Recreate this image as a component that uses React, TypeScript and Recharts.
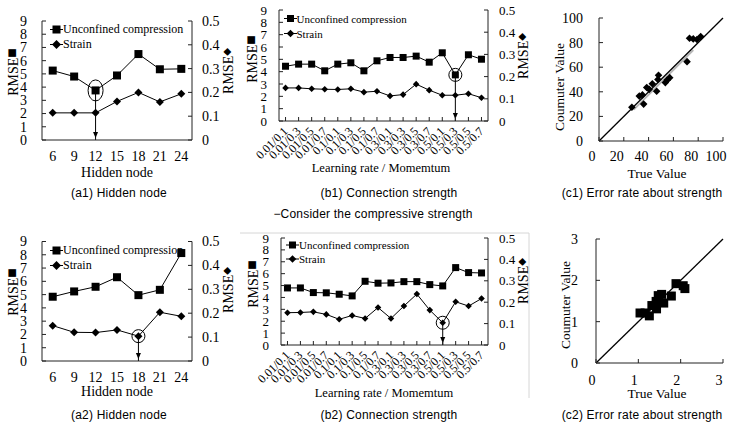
import React from "react";
import {
  Legend,
  Line,
  LineChart,
  ReferenceDot,
  ReferenceLine,
  Scatter,
  ScatterChart,
  XAxis,
  YAxis,
} from "recharts";

const SERIF = '"Liberation Serif", "Times New Roman", serif';
const SANS = '"Liberation Sans", Arial, sans-serif';
const SYMBOL = '"DejaVu Sans", sans-serif';
const EDGE = "#222";

// hidden node sweep (a1, a2)
const hiddenNodes = ["6", "9", "12", "15", "18", "21", "24"];
const a1Compression = [5.25, 4.8, 3.75, 4.88, 6.5, 5.35, 5.38];
const a1Strain = [0.114, 0.114, 0.114, 0.162, 0.2, 0.16, 0.194];
const a2Compression = [4.84, 5.24, 5.59, 6.31, 4.96, 5.36, 8.13];
const a2Strain = [0.148, 0.12, 0.119, 0.13, 0.104, 0.204, 0.187];

// learning rate / momentum sweep (b1, b2)
const rateMomentum = [
  "0.01/0.1", "0.01/0.3", "0.01/0.5", "0.01/0.7",
  "0.1/0.1", "0.1/0.3", "0.1/0.5", "0.1/0.7",
  "0.3/0.1", "0.3/0.3", "0.3/0.5", "0.3/0.7",
  "0.5/0.1", "0.5/0.3", "0.5/0.5", "0.5/0.7",
];
const b1Compression = [4.44, 4.61, 4.61, 4.07, 4.61, 4.72, 4.07, 4.88, 5.15, 5.15, 5.26, 4.77, 5.53, 3.74, 5.37, 5.01];
const b1Strain = [0.149, 0.149, 0.145, 0.143, 0.142, 0.145, 0.13, 0.134, 0.113, 0.119, 0.166, 0.139, 0.116, 0.116, 0.123, 0.105];
const b2Compression = [4.8, 4.8, 4.41, 4.39, 4.27, 4.13, 5.36, 5.2, 5.22, 5.33, 5.33, 5.08, 4.97, 6.51, 6.09, 6.06];
const b2Strain = [0.151, 0.152, 0.155, 0.143, 0.12, 0.138, 0.124, 0.175, 0.124, 0.182, 0.238, 0.163, 0.104, 0.202, 0.182, 0.217];

const rmseTicks = [0, 1, 2, 3, 4, 5, 6, 7, 8, 9];
const strainTicks = [0, 0.1, 0.2, 0.3, 0.4, 0.5];

// true vs computed strength (c1, c2)
const c1True = [26.5, 32.5, 35, 36, 38.5, 40.5, 43, 46.5, 48, 47.5, 53.5, 55, 57, 71, 73, 76, 79, 82];
const c1Computed = [27.5, 36.5, 37.5, 30, 43.5, 42, 46.5, 40.5, 53.5, 50, 47.5, 49.5, 51.5, 64.5, 83.5, 83, 82.5, 85];
const c1TrendX = [28, 76];
const c1TrendY = [25.5, 74];
const c1Ticks = [0, 20, 40, 60, 80, 100];

const c2True = [1.04, 1.16, 1.26, 1.32, 1.42, 1.47, 1.55, 1.43, 1.6, 1.78, 1.89, 2.06, 2.1];
const c2Computed = [1.21, 1.21, 1.14, 1.39, 1.49, 1.63, 1.66, 1.31, 1.45, 1.62, 1.92, 1.87, 1.8];
const c2TrendX = [1.15, 1.95];
const c2TrendY = [1.07, 1.87];
const c2Ticks = [0, 1, 2, 3];

type Row = { name: string; comp: number; strain: number };
const rows = (names: string[], comp: number[], strain: number[]): Row[] =>
  names.map((name, i) => ({ name, comp: comp[i], strain: strain[i] }));
const pairs = (xs: number[], ys: number[]) => xs.map((x, i) => ({ x, y: ys[i] }));

// ticks: labels outside the box, short tick marks pointing inward
type TickOpts = {
  side: "left" | "right" | "bottom";
  gap: number;
  font: number;
  inner?: number;
  rotate?: boolean;
  shift?: number;
};
const makeTick = ({ side, gap, font, inner = 0, rotate = false, shift = 0 }: TickOpts) => (p: any) => {
  const { x, y, payload } = p;
  const label = String(payload.value);
  const txt = { fontFamily: SERIF, fontSize: font, fill: "#000" };
  if (side === "left") {
    return (
      <g>
        {inner > 0 && <line x1={x + gap} x2={x + gap + inner} y1={y} y2={y} stroke={EDGE} />}
        <text x={x} y={y} dy="0.35em" textAnchor="end" {...txt}>{label}</text>
      </g>
    );
  }
  if (side === "right") {
    return (
      <g>
        {inner > 0 && <line x1={x - gap} x2={x - gap - inner} y1={y} y2={y} stroke={EDGE} />}
        <text x={x} y={y} dy="0.35em" textAnchor="start" {...txt}>{label}</text>
      </g>
    );
  }
  return (
    <g>
      {inner > 0 && <line x1={x} x2={x} y1={y - gap} y2={y - gap - inner} stroke={EDGE} />}
      {rotate ? (
        <text x={x} y={y} dy="0.35em" textAnchor="end" transform={`rotate(-45 ${x} ${y})`} {...txt}>{label}</text>
      ) : (
        <text x={x + shift} y={y} dy="0.71em" textAnchor="middle" {...txt}>{label}</text>
      )}
    </g>
  );
};

const squareDot = (s: number) => (q: any) => (
  <rect key={`sq${q.index}`} x={q.cx - s / 2} y={q.cy - s / 2} width={s} height={s} fill="#000" />
);
const diamondDot = (h: number) => (q: any) => (
  <polygon
    key={`dm${q.index}`}
    points={`${q.cx},${q.cy - h} ${q.cx + h},${q.cy} ${q.cx},${q.cy + h} ${q.cx - h},${q.cy}`}
    fill="#000"
  />
);

const legendBody = (font: number, row: number, sq: number, dm: number) => (props: any) => {
  const items = [...(props.payload ?? [])].sort((a: any, b: any) =>
    a.dataKey === "comp" ? -1 : b.dataKey === "comp" ? 1 : 0
  );
  return (
    <div style={{ fontFamily: SERIF, fontSize: font, color: "#000", whiteSpace: "nowrap" }}>
      {items.map((e: any) => (
        <div key={e.value} style={{ display: "flex", alignItems: "center", height: row }}>
          <svg width={13} height={row} style={{ display: "block" }}>
            <line x1={0} x2={13} y1={row / 2} y2={row / 2} stroke="#000" />
            {e.dataKey === "comp" ? (
              <rect x={6.5 - sq / 2} y={row / 2 - sq / 2} width={sq} height={sq} fill="#000" />
            ) : (
              <polygon
                points={`6.5,${row / 2 - dm} ${6.5 + dm},${row / 2} 6.5,${row / 2 + dm} ${6.5 - dm},${row / 2}`}
                fill="#000"
              />
            )}
          </svg>
          <span>{e.value}</span>
        </div>
      ))}
    </div>
  );
};

type PanelProps = {
  left: number; top: number; width: number; height: number;
  data: Row[];
  marginTop: number; leftW: number; rightW: number; xH: number;
  gapL: number; gapR: number; gapX: number;
  font: number; xFont: number; rotated: boolean;
  square: number; diamond: number;
  legend: { left: number; top: number; font: number; row: number };
  mark: { at: string; series: "comp" | "strain"; rx: number; ry: number };
};

function RmsePanel(p: PanelProps) {
  const { data, mark } = p;
  const axisId = mark.series === "comp" ? "l" : "r";
  const markValue = data.find((d) => d.name === mark.at)![mark.series];
  return (
    <div style={{ position: "absolute", left: p.left, top: p.top }}>
      <LineChart width={p.width} height={p.height} data={data} margin={{ top: p.marginTop, right: 0, bottom: 0, left: 0 }}>
        <XAxis
          dataKey="name"
          scale="band"
          height={p.xH}
          interval={0}
          tickSize={0}
          tickMargin={p.gapX}
          tickLine={false}
          axisLine={{ stroke: EDGE }}
          tick={makeTick({ side: "bottom", gap: p.gapX, font: p.xFont, inner: p.rotated ? 4 : 0, rotate: p.rotated })}
        />
        <XAxis xAxisId="top" dataKey="name" scale="band" orientation="top" height={0} tick={false} tickLine={false} axisLine={{ stroke: EDGE }} />
        <YAxis
          yAxisId="l"
          width={p.leftW}
          domain={[0, 9]}
          ticks={rmseTicks}
          interval={0}
          tickSize={0}
          tickMargin={p.gapL}
          tickLine={false}
          axisLine={{ stroke: EDGE }}
          tick={makeTick({ side: "left", gap: p.gapL, font: p.font, inner: 4 })}
        />
        <YAxis
          yAxisId="r"
          orientation="right"
          width={p.rightW}
          domain={[0, 0.5]}
          ticks={strainTicks}
          interval={0}
          tickSize={0}
          tickMargin={p.gapR}
          tickLine={false}
          axisLine={{ stroke: EDGE }}
          tick={makeTick({ side: "right", gap: p.gapR, font: p.font, inner: 4 })}
        />
        <ReferenceLine
          yAxisId={axisId}
          segment={[{ x: mark.at, y: markValue }, { x: mark.at, y: 0 }]}
          stroke="#000"
          ifOverflow="visible"
        />
        <Line
          yAxisId="l"
          dataKey="comp"
          name="Unconfined compression"
          stroke="#000"
          strokeWidth={1}
          dot={squareDot(p.square)}
          activeDot={false}
          isAnimationActive={false}
        />
        <Line
          yAxisId="r"
          dataKey="strain"
          name="Strain"
          stroke="#000"
          strokeWidth={1}
          dot={diamondDot(p.diamond)}
          activeDot={false}
          isAnimationActive={false}
        />
        <ReferenceDot
          yAxisId={axisId}
          x={mark.at}
          y={markValue}
          ifOverflow="visible"
          shape={(q: any) => <ellipse cx={q.cx} cy={q.cy} rx={mark.rx} ry={mark.ry} fill="none" stroke="#000" />}
        />
        <ReferenceDot
          yAxisId={axisId}
          x={mark.at}
          y={0}
          ifOverflow="visible"
          shape={(q: any) => (
            <polygon points={`${q.cx - 2.5},${q.cy - 8} ${q.cx + 2.5},${q.cy - 8} ${q.cx},${q.cy - 2}`} fill="#000" />
          )}
        />
        <Legend
          layout="horizontal"
          verticalAlign="middle"
          align="center"
          wrapperStyle={{ left: p.legend.left, top: p.legend.top, width: "auto", height: "auto" }}
          content={legendBody(p.legend.font, p.legend.row, p.square, p.diamond + 0.5)}
        />
      </LineChart>
    </div>
  );
}

type ParityProps = {
  left: number; top: number; width: number; height: number;
  pts: { x: number; y: number }[];
  trend: { x: number; y: number }[];
  trendColor: string;
  max: number; ticks: number[];
  marginTop: number; leftW: number; xH: number; gapL: number; gapX: number; shiftX: number;
  shape: (q: any) => React.ReactElement;
  trendOnTop: boolean;
};

function ParityPanel(p: ParityProps) {
  const trend = (
    <ReferenceLine
      xAxisId="x"
      yAxisId="y"
      segment={p.trend}
      stroke={p.trendColor}
      strokeWidth={2}
      ifOverflow="visible"
    />
  );
  return (
    <div style={{ position: "absolute", left: p.left, top: p.top }}>
      <ScatterChart width={p.width} height={p.height} margin={{ top: p.marginTop, right: 6, bottom: 0, left: 0 }}>
        <XAxis
          xAxisId="x"
          type="number"
          dataKey="x"
          domain={[0, p.max]}
          ticks={p.ticks}
          interval={0}
          height={p.xH}
          tickSize={0}
          tickMargin={p.gapX}
          tickLine={false}
          axisLine={{ stroke: EDGE }}
          tick={makeTick({ side: "bottom", gap: p.gapX, font: 14, inner: 4, shift: p.shiftX })}
        />
        <XAxis xAxisId="t" type="number" orientation="top" domain={[0, p.max]} height={0} tick={false} tickLine={false} axisLine={{ stroke: EDGE }} />
        <YAxis
          yAxisId="y"
          type="number"
          dataKey="y"
          domain={[0, p.max]}
          ticks={p.ticks}
          interval={0}
          width={p.leftW}
          tickSize={0}
          tickMargin={p.gapL}
          tickLine={false}
          axisLine={{ stroke: EDGE }}
          tick={makeTick({ side: "left", gap: p.gapL, font: 14, inner: 4 })}
        />
        <YAxis yAxisId="r" type="number" orientation="right" domain={[0, p.max]} width={0} tick={false} tickLine={false} axisLine={{ stroke: EDGE }} />
        {!p.trendOnTop && trend}
        <ReferenceLine
          xAxisId="x"
          yAxisId="y"
          segment={[{ x: 0, y: 0 }, { x: p.max, y: p.max }]}
          stroke="#000"
          strokeWidth={1.3}
        />
        <Scatter xAxisId="x" yAxisId="y" data={p.pts} shape={p.shape} isAnimationActive={false} />
        {p.trendOnTop && trend}
      </ScatterChart>
    </div>
  );
}

const Title = ({ x, y, size, children, rotate = false, sans = false }: any) => (
  <text
    x={x}
    y={y}
    dy="0.35em"
    textAnchor="middle"
    transform={rotate ? `rotate(-90 ${x} ${y})` : undefined}
    fontFamily={sans ? SANS : SERIF}
    fontSize={size}
    letterSpacing={sans ? 0.2 : 0}
    fill="#000"
  >
    {children}
  </text>
);

// rotated "RMSE" axis title followed by the series symbol
const RmseTitle = ({ x, y, mark }: { x: number; y: number; mark: string }) => (
  <Title x={x} y={y} size={14} rotate>
    RMSE<tspan fontFamily={SYMBOL} fontSize={10} dy={-3}>{mark}</tspan>
  </Title>
);

export default function App() {
  return (
    <div style={{ position: "absolute", left: 0, top: 0, width: 729, height: 428, background: "#fff", overflow: "hidden" }}>
      <svg width={729} height={428} style={{ position: "absolute", left: 0, top: 0 }}>
        <line x1={240} x2={529} y1={233} y2={233} stroke="#d6d6d6" />
        <line x1={529} x2={529} y1={233} y2={398} stroke="#d6d6d6" />
      </svg>

      <RmsePanel
        left={0} top={0} width={245} height={200}
        data={rows(hiddenNodes, a1Compression, a1Strain)}
        marginTop={21} leftW={42} rightW={53} xH={60}
        gapL={15} gapR={10} gapX={11} font={14} xFont={14} rotated={false}
        square={8} diamond={4}
        legend={{ left: 50, top: 22, font: 12, row: 15 }}
        mark={{ at: "12", series: "comp", rx: 7.5, ry: 10.5 }}
      />
      <RmsePanel
        left={0} top={220} width={245} height={200}
        data={rows(hiddenNodes, a2Compression, a2Strain)}
        marginTop={21.5} leftW={42} rightW={53} xH={59}
        gapL={15} gapR={10} gapX={11} font={14} xFont={14} rotated={false}
        square={8} diamond={4}
        legend={{ left: 50, top: 22.5, font: 12, row: 15 }}
        mark={{ at: "18", series: "strain", rx: 6.5, ry: 6.5 }}
      />
      <RmsePanel
        left={232} top={0} width={300} height={200}
        data={rows(rateMomentum, b1Compression, b1Strain)}
        marginTop={10} leftW={47} rightW={44} xH={79}
        gapL={12} gapR={11} gapX={8} font={13} xFont={12} rotated
        square={7} diamond={3.3}
        legend={{ left: 51.5, top: 11, font: 11, row: 15 }}
        mark={{ at: "0.5/0.3", series: "comp", rx: 6.5, ry: 6.5 }}
      />
      <RmsePanel
        left={232} top={220} width={300} height={200}
        data={rows(rateMomentum, b2Compression, b2Strain)}
        marginTop={18} leftW={49} rightW={44} xH={75}
        gapL={12} gapR={11} gapX={8} font={13} xFont={12} rotated
        square={7} diamond={3.3}
        legend={{ left: 54, top: 18, font: 11, row: 14 }}
        mark={{ at: "0.5/0.1", series: "strain", rx: 6.5, ry: 6.5 }}
      />
      <ParityPanel
        left={540} top={0} width={189} height={200}
        pts={pairs(c1True, c1Computed)}
        trend={pairs(c1TrendX, c1TrendY)}
        trendColor="#b8b8b8"
        max={100} ticks={c1Ticks}
        marginTop={18} leftW={59} xH={59} gapL={16} gapX={10} shiftX={-7}
        shape={diamondDot(3.8)}
        trendOnTop={false}
      />
      <ParityPanel
        left={540} top={220} width={189} height={200}
        pts={pairs(c2True, c2Computed)}
        trend={pairs(c2TrendX, c2TrendY)}
        trendColor="#eeeeee"
        max={3} ticks={c2Ticks}
        marginTop={19} leftW={56} xH={57} gapL={18} gapX={12} shiftX={-4}
        shape={squareDot(9)}
        trendOnTop
      />

      <svg width={729} height={428} style={{ position: "absolute", left: 0, top: 0, pointerEvents: "none" }}>
        <RmseTitle x={13.5} y={72} mark="■" />
        <RmseTitle x={228} y={71} mark="◆" />
        <Title x={117} y={172} size={14}>Hidden node</Title>
        <Title x={119} y={193} size={12} sans>(a1) Hidden node</Title>

        <RmseTitle x={13.5} y={292} mark="■" />
        <RmseTitle x={228} y={290} mark="◆" />
        <Title x={117} y={391} size={14}>Hidden node</Title>
        <Title x={119} y={415} size={12} sans>(a2) Hidden node</Title>

        <RmseTitle x={252} y={59} mark="■" />
        <RmseTitle x={523} y={56} mark="◆" />
        <Title x={381} y={168} size={12.5}>Learning rate / Momemtum</Title>
        <Title x={389} y={193} size={12} sans>(b1) Connection strength</Title>

        <Title x={373} y={214} size={12} sans>−Consider the compressive strength</Title>

        <RmseTitle x={253} y={284} mark="■" />
        <RmseTitle x={523} y={281} mark="◆" />
        <Title x={384} y={393} size={12.5}>Learning rate / Momemtum</Title>
        <Title x={389} y={415} size={12} sans>(b2) Connection strength</Title>

        <Title x={559} y={87} size={13.5} rotate>Coumuter Value</Title>
        <Title x={657} y={173} size={13.5}>True Value</Title>
        <Title x={642} y={193} size={12} sans>(c1) Error rate about strength</Title>

        <Title x={565} y={305} size={13.5} rotate>Coumuter Value</Title>
        <Title x={657} y={393} size={13.5}>True Value</Title>
        <Title x={642} y={415} size={12} sans>(c2) Error rate about strength</Title>
      </svg>
    </div>
  );
}
